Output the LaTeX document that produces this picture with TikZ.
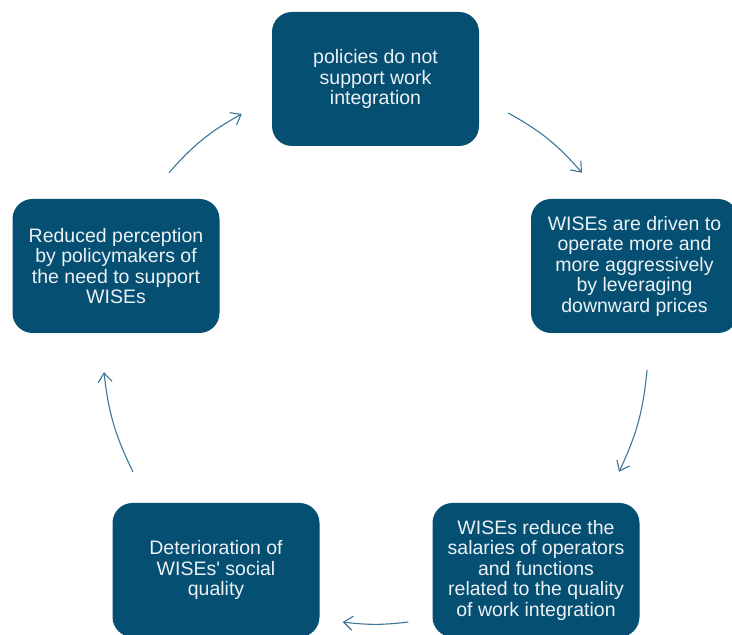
\documentclass[tikz,border=0pt]{standalone}
\usepackage{fontspec}
\setmainfont{Liberation Sans}
\usetikzlibrary{arrows.meta}
\definecolor{boxblue}{RGB}{5,79,114}
\definecolor{boxtext}{RGB}{236,241,245}
\definecolor{arrowblue}{RGB}{60,118,152}

\begin{document}
\begin{tikzpicture}[x=1pt,y=1pt,
    cyclebox/.style={fill=boxblue, rounded corners=20pt, minimum width=207pt, minimum height=134pt,
      text=boxtext, align=center, inner sep=0pt, font=\fontsize{19.5}{20.5}\selectfont},
    cyclearrow/.style={arrowblue, line width=1.1pt, -{Straight Barb[length=9pt,width=14pt]}}]
    \useasboundingbox (0,0) rectangle (732,635);
    % Boxes of the cycle
    \node[cyclebox] (policies) at (375.5,556) {policies do not\\support work\\integration};
    \node[cyclebox] (driven) at (634.5,369) {WISEs are driven to\\operate more and\\more aggressively\\by leveraging\\downward prices};
    \node[cyclebox] (salaries) at (536,65) {WISEs reduce the\\salaries of operators\\and functions\\related to the quality\\of work integration};
    \node[cyclebox] (quality) at (216,65) {Deterioration of\\WISEs\textquotesingle\ social\\quality};
    \node[cyclebox] (perception) at (116,369) {Reduced perception\\by policymakers of\\the need to support\\WISEs};
    % Arrows between them
    \draw[cyclearrow] ([shift={(29,-34)}]policies.east) to[bend left=10] ([shift={(-52.5,26)}]driven.north);
    \draw[cyclearrow] ([shift={(12.5,-37)}]driven.south) to[bend left=10] ([shift={(83,31)}]salaries.north);
    \draw[cyclearrow] ([shift={(-24,-52)}]salaries.west) to[bend left=7] ([shift={(23,-52)}]quality.east);
    \draw[cyclearrow] ([shift={(-83,31)}]quality.north) to[bend left=10] ([shift={(-12,-39)}]perception.south);
    \draw[cyclearrow] ([shift={(53,26)}]perception.north) to[bend left=10] ([shift={(-30,-35)}]policies.west);
\end{tikzpicture}
\end{document}
